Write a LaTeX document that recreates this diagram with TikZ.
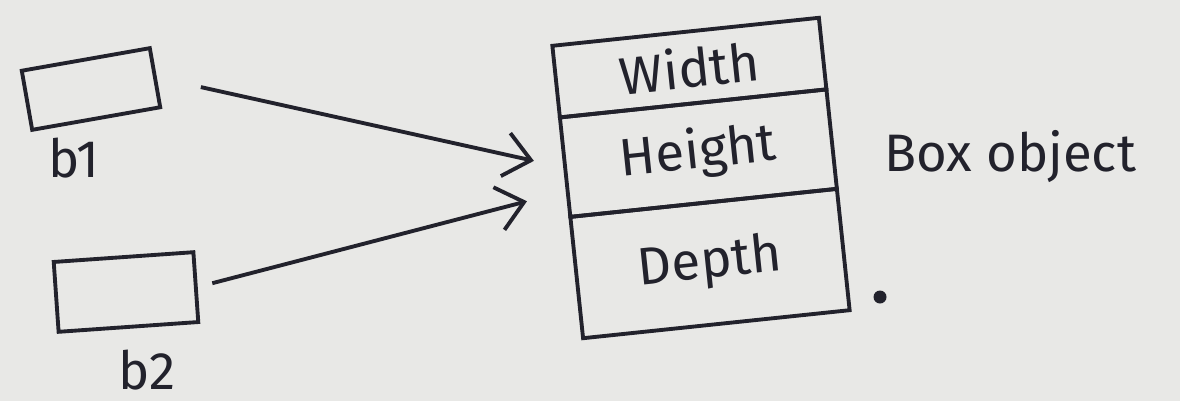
\documentclass[tikz,border=0pt]{standalone}
\usepackage{fontspec}
\setmainfont{Fira Sans}
\usepackage{tikz}
\usetikzlibrary{positioning, arrows.meta}

\definecolor{paper}{HTML}{E8E8E6}
\definecolor{ink}{HTML}{22222C}

\begin{document}
\begin{tikzpicture}[
    every node/.style={text=ink, font=\fontsize{15}{18}\selectfont},
    ref/.style={draw=ink, line width=1.1pt, rectangle, inner sep=0pt},
    row/.style={draw=ink, line width=1.1pt, rectangle, inner sep=0pt, minimum width=2.68cm},
    arr/.style={draw=ink, line width=1.1pt, -{Straight Barb[length=2.6mm, width=4.4mm]}},
]
% Paper
\fill[paper] (0,0) rectangle (11.8,-4.01);
\useasboundingbox (0,0) rectangle (11.8,-4.01);

% Reference variables
\node[ref, minimum width=1.3cm, minimum height=0.6cm, rotate=10] (b1) at (0.91,-0.89) {};
\node[ref, minimum width=1.4cm, minimum height=0.7cm, rotate=4] (b2) at (1.26,-2.92) {};
\node (b1lbl) at (0.74,-1.58) {b1};
\node (b2lbl) at (1.47,-3.70) {b2};

% Box object (three fields)
\begin{scope}[shift={(7.01,-1.78)}, rotate=6, transform shape]
\node[row, minimum height=0.72cm] (width) at (0,1.11) {Width};
\node[row, minimum height=1.0cm] (height) at (0,0.25) {Height};
\node[row, minimum height=1.22cm] (depth) at (0,-0.86) {Depth};
\end{scope}

\node[anchor=west] (boxobj) at (8.72,-1.57) {Box object};
\node[circle, fill=ink, inner sep=0pt, minimum size=1.3mm] (dot) at (8.8,-2.97) {};

% References
\draw[arr, shorten <=4.5mm, shorten >=3mm] (b1.east) -- (height.west);
\draw[arr, shorten <=1.5mm, shorten >=4mm] (b2.east) -- (height.190);

\end{tikzpicture}
\end{document}
